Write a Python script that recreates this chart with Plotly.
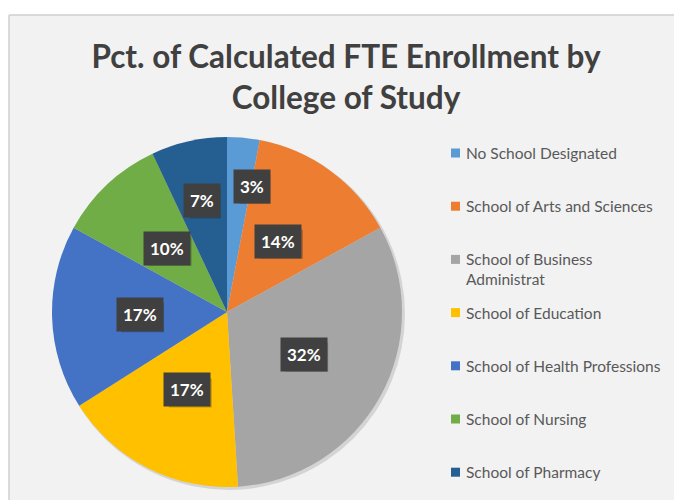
import math
import plotly.graph_objects as go

categories = [
    "No School Designated",
    "School of Arts and Sciences",
    "School of Business<br>Administrat",
    "School of Education",
    "School of Health Professions",
    "School of Nursing",
    "School of Pharmacy",
]
pct_values = [3, 14, 32, 17, 17, 10, 7]
colors = ["#5B9BD5", "#ED7D31", "#A5A5A5", "#FFC000", "#4472C4", "#70AD47", "#255E91"]
title_text = "Pct. of Calculated FTE Enrollment by<br>College of Study"

# body margin is removed via post_script, so the figure fills the window
W, H = 674, 500
FONT = "Lato"
# pie geometry in window pixels
CX, CY, R = 227, 312, 175


def px(x):
    return x / W


def py(y):
    return 1 - y / H


fig = go.Figure()
fig.add_trace(go.Pie(
    labels=categories,
    values=pct_values,
    sort=False,
    direction="clockwise",
    rotation=0,
    marker=dict(colors=colors, line=dict(width=0)),
    textinfo="none",
    hoverinfo="label+percent",
    showlegend=False,
    domain=dict(x=[px(CX - R), px(CX + R)], y=[py(CY + R), py(CY - R)]),
))

shapes = []
# white page outside the chart area (left and top strips) and the chart-area border
shapes.append(dict(type="rect", xref="paper", yref="paper",
                   x0=-0.05, x1=px(9), y0=-0.05, y1=1.05,
                   fillcolor="white", line=dict(width=0), layer="below"))
shapes.append(dict(type="rect", xref="paper", yref="paper",
                   x0=-0.05, x1=1.05, y0=py(15), y1=1.05,
                   fillcolor="white", line=dict(width=0), layer="below"))
shapes.append(dict(type="line", xref="paper", yref="paper",
                   x0=px(9), x1=px(9), y0=-0.05, y1=py(15),
                   line=dict(color="#CFCFCF", width=1.5), layer="below"))
shapes.append(dict(type="line", xref="paper", yref="paper",
                   x0=px(9), x1=1.05, y0=py(15), y1=py(15),
                   line=dict(color="#CFCFCF", width=1.5), layer="below"))
# soft pie shadow
shapes.append(dict(type="circle", xref="paper", yref="paper",
                   x0=px(CX - R + 1), x1=px(CX + R + 3), y0=py(CY + R + 3), y1=py(CY - R + 1),
                   fillcolor="rgba(0,0,0,0.12)", line=dict(width=0), layer="below"))

annotations = []
total = sum(pct_values)
cum = 0
for i, v in enumerate(pct_values):
    mid = (cum + v / 2) / total * 2 * math.pi
    cum += v
    frac = 0.72 if v < 5 else (0.65 if v < 8 else 0.5)
    # keep a label of a very thin slice clear of the slice edge
    xs = 13 if v < 5 else 0
    lx = CX + frac * R * math.sin(mid) + xs
    ly = CY - frac * R * math.cos(mid)
    label = f"{round(v / total * 100)}%"
    # drop shadow behind the label box
    bw, bh = 12 * (len(label) - 1) + 19, 29
    shapes.append(dict(type="rect", xref="paper", yref="paper",
                       x0=px(lx - bw / 2 + 3), x1=px(lx + bw / 2 + 3),
                       y0=py(ly + bh / 2 + 3), y1=py(ly - bh / 2 + 3),
                       fillcolor="rgba(0,0,0,0.22)", line=dict(width=0)))
    annotations.append(dict(x=px(lx), y=py(ly), xref="paper", yref="paper",
                            xanchor="center", yanchor="middle", text=f"<b>{label}</b>",
                            showarrow=False, borderpad=6,
                            font=dict(family=FONT, size=17, color="white"),
                            bgcolor="#404040"))

# legend
LEG_Y0, LEG_DY, LEG_FS = 153, 53.2, 15.5
for i, (cat, col) in enumerate(zip(categories, colors)):
    yc = LEG_Y0 + i * LEG_DY
    shapes.append(dict(type="rect", xref="paper", yref="paper",
                       x0=px(451), x1=px(460), y0=py(yc + 4.5), y1=py(yc - 4.5),
                       fillcolor=col, line=dict(width=0)))
    annotations.append(dict(x=px(464), y=py(yc - 0.65 * LEG_FS - 1), xref="paper", yref="paper",
                            xanchor="left", yanchor="top", align="left",
                            text=cat, showarrow=False,
                            font=dict(family=FONT, size=LEG_FS, color="#595959")))

fig.update_layout(
    width=W, height=H,
    margin=dict(l=0, r=0, t=0, b=0),
    paper_bgcolor="#F2F2F2",
    plot_bgcolor="#F2F2F2",
    title=dict(text=f"<b>{title_text}</b>", x=px(346), xanchor="center",
               y=py(68), yanchor="middle", yref="container",
               font=dict(family=FONT, size=31.5, color="#404040")),
    shapes=shapes,
    annotations=annotations,
)

fig.write_html(
    "out.html",
    config={"displayModeBar": False},
    post_script="document.body.style.margin='0';document.body.style.overflow='hidden';",
)
